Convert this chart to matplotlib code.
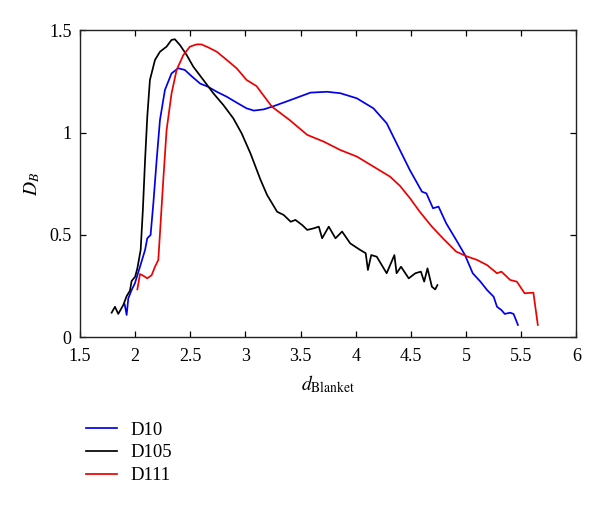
#!/usr/bin/env python3
"""
D_B vs d_Blanket 曲线图 (D10 / D105 / D111)
"""
import matplotlib
matplotlib.use("Agg")
import matplotlib.pyplot as plt

plt.rcParams["font.family"] = ["Liberation Serif", "DejaVu Serif"]
plt.rcParams["mathtext.fontset"] = "stix"

# --- 数据 ---
d10_x = [1.905, 1.923, 1.938, 1.968, 1.998, 2.044, 2.09, 2.11, 2.14, 2.165,
         2.195, 2.225, 2.27, 2.33, 2.39, 2.45, 2.51, 2.59, 2.66, 2.74,
         2.83, 2.92, 3.01, 3.076, 3.166, 3.257, 3.41, 3.59, 3.74, 3.86,
         4.01, 4.16, 4.28, 4.40, 4.49, 4.6, 4.64, 4.7, 4.75, 4.82,
         4.91, 4.99, 5.06, 5.13, 5.19, 5.25, 5.28, 5.32, 5.35, 5.4,
         5.43, 5.47]
d10_y = [0.16, 0.108, 0.189, 0.23, 0.263, 0.344, 0.426, 0.483, 0.499, 0.654,
         0.866, 1.062, 1.209, 1.29, 1.315, 1.307, 1.277, 1.24, 1.225, 1.2,
         1.176, 1.147, 1.119, 1.108, 1.114, 1.13, 1.16, 1.196, 1.2, 1.193,
         1.168, 1.119, 1.046, 0.915, 0.817, 0.711, 0.703, 0.63, 0.638, 0.556,
         0.475, 0.401, 0.312, 0.271, 0.23, 0.197, 0.148, 0.132, 0.113, 0.119,
         0.113, 0.059]

d105_x = [1.787, 1.817, 1.847, 1.893, 1.923, 1.953, 1.968, 2.0, 2.02, 2.05,
          2.07, 2.09, 2.11, 2.134, 2.18, 2.225, 2.285, 2.33, 2.36, 2.406,
          2.467, 2.527, 2.618, 2.71, 2.8, 2.89, 2.965, 3.045, 3.136, 3.196,
          3.287, 3.347, 3.41, 3.453, 3.514, 3.56, 3.62, 3.665, 3.695, 3.755,
          3.816, 3.876, 3.95, 4.04, 4.09, 4.11, 4.14, 4.19, 4.28, 4.35,
          4.37, 4.41, 4.48, 4.54, 4.59, 4.62, 4.65, 4.69, 4.72, 4.74]
d105_y = [0.119, 0.148, 0.113, 0.157, 0.2, 0.227, 0.274, 0.295, 0.336, 0.426,
          0.622, 0.866, 1.078, 1.258, 1.356, 1.396, 1.421, 1.454, 1.457, 1.429,
          1.38, 1.323, 1.258, 1.192, 1.135, 1.07, 0.997, 0.899, 0.77, 0.695,
          0.613, 0.597, 0.564, 0.573, 0.548, 0.524, 0.532, 0.54, 0.483, 0.54,
          0.483, 0.516, 0.458, 0.426, 0.41, 0.328, 0.401, 0.393, 0.312, 0.401,
          0.312, 0.344, 0.287, 0.312, 0.32, 0.271, 0.336, 0.246, 0.233, 0.254]

d111_x = [2.02, 2.044, 2.074, 2.11, 2.15, 2.18, 2.21, 2.225, 2.255, 2.285,
          2.33, 2.376, 2.437, 2.497, 2.557, 2.6, 2.66, 2.74, 2.83, 2.92,
          3.01, 3.1, 3.24, 3.4, 3.56, 3.71, 3.86, 4.01, 4.16, 4.31,
          4.4, 4.49, 4.58, 4.69, 4.79, 4.91, 5.0, 5.1, 5.19, 5.28,
          5.32, 5.4, 5.46, 5.53, 5.61, 5.65]
d111_y = [0.233, 0.308, 0.3, 0.287, 0.303, 0.344, 0.377, 0.507, 0.768, 1.013,
          1.192, 1.307, 1.38, 1.421, 1.432, 1.432, 1.418, 1.396, 1.356, 1.315,
          1.258, 1.228, 1.127, 1.062, 0.989, 0.956, 0.915, 0.883, 0.834, 0.785,
          0.74, 0.68, 0.613, 0.54, 0.483, 0.418, 0.396, 0.377, 0.352, 0.312,
          0.32, 0.279, 0.271, 0.214, 0.217, 0.059]

series = [("D10", d10_x, d10_y, "#0000ee"),
          ("D105", d105_x, d105_y, "#000000"),
          ("D111", d111_x, d111_y, "#ee0000")]

# --- 画图 ---
fig = plt.figure(figsize=(6, 5.08), dpi=100)
ax = fig.add_axes([0.1333, 0.3366, 0.8274, 0.6034])

for name, xs, ys, color in series:
    ax.plot(xs, ys, color=color, linewidth=1.25, label=name)

ax.set_xlim(1.5, 6)
ax.set_ylim(0, 1.5)
ax.set_xticks([1.5, 2, 2.5, 3, 3.5, 4, 4.5, 5, 5.5, 6])
ax.set_xticklabels(["1.5", "2", "2.5", "3", "3.5", "4", "4.5", "5", "5.5", "6"])
ax.set_yticks([0, 0.5, 1, 1.5])
ax.set_yticklabels(["0", "0.5", "1", "1.5"])
ax.tick_params(direction="in", top=True, right=True, length=4, width=0.9,
               labelsize=13)
ax.tick_params(axis="x", pad=8)
ax.tick_params(axis="y", pad=6)
for sp in ax.spines.values():
    sp.set_linewidth(1.0)
    sp.set_color("#222222")

ax.set_xlabel(r"$d_{\mathrm{Blanket}}$", fontsize=14, labelpad=6)
ax.set_ylabel(r"$D_B$", fontsize=14, labelpad=5)

# 图例放在坐标轴下方左侧
fig.legend(loc="upper left", bbox_to_anchor=(78 / 600, 1 - 414 / 508),
           frameon=False, fontsize=13.5, handlelength=1.7, handletextpad=0.7,
           labelspacing=0.3, borderaxespad=0)

plt.savefig("out.png", dpi=100, facecolor="white")
plt.close()
